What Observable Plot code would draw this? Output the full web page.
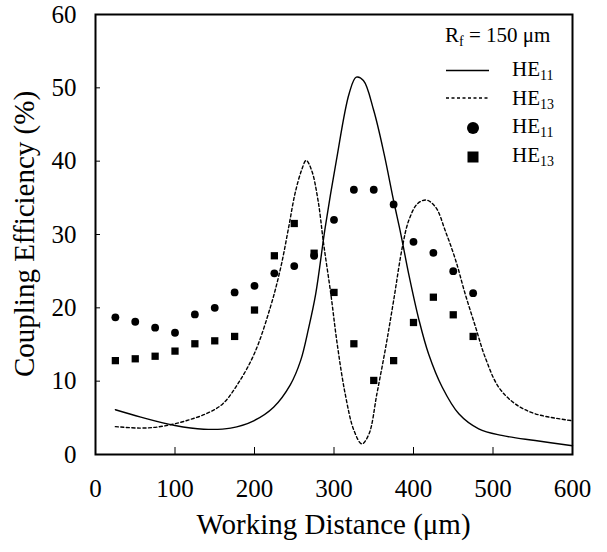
<!DOCTYPE html>
<html><head><meta charset="utf-8">
<script src="https://cdn.jsdelivr.net/npm/d3@7"></script>
<script src="https://cdn.jsdelivr.net/npm/@observablehq/plot@0.6"></script>
<style>body{margin:0;background:#fff} svg{display:block}</style>
</head><body><div id="chart"></div>
<script>
const xTicks = [0, 100, 200, 300, 400, 500, 600];
const yTicks = [0, 10, 20, 30, 40, 50, 60];

// measured points (working distance, um)
const pointX = [25, 50, 75, 100, 125, 150, 175, 200, 225, 250, 275, 300, 325, 350, 375, 400, 425, 450, 475];
const he11Measured = [18.7, 18.1, 17.3, 16.6, 19.1, 20.0, 22.1, 23.0, 24.7, 25.7, 27.1, 32.0, 36.1, 36.1, 34.1, 29.0, 27.5, 25.0, 22.0];
const he13Measured = [12.8, 13.05, 13.4, 14.1, 15.1, 15.5, 16.1, 19.7, 27.1, 31.5, 27.45, 22.1, 15.1, 10.1, 12.8, 18.0, 21.45, 19.05, 16.1];

// theoretical curves
const he11TheoryX = [25, 57, 100, 136, 170, 199, 224, 245, 258, 268, 277, 289, 303, 319, 328, 337, 350, 363, 375, 384, 394, 407, 419, 436, 457, 482, 511, 553, 600];
const he11TheoryY = [6.1, 5.1, 3.95, 3.45, 3.6, 4.6, 6.45, 9.5, 12.8, 17.2, 21.9, 31.0, 40.1, 49.2, 51.45, 51.0, 46.9, 41.0, 34.6, 30.1, 24.6, 18.3, 13.7, 9.2, 5.55, 3.5, 2.6, 1.9, 1.2];
const he13TheoryX = [25, 56, 78, 100, 120, 140, 160, 180, 200, 220, 233, 243, 251, 259, 265, 272, 280, 287, 296, 304, 314, 325, 335, 344, 354, 365, 375, 386, 394, 405, 416, 428, 440, 453, 465, 478, 490, 507, 528, 553, 600];
const he13TheoryY = [3.8, 3.6, 3.75, 4.2, 4.8, 5.6, 6.9, 9.8, 13.8, 20.1, 25.5, 31.0, 35.6, 38.7, 40.1, 38.7, 34.6, 28.7, 21.9, 15.1, 8.3, 3.3, 1.45, 2.8, 8.3, 14.6, 21.0, 28.3, 31.9, 34.2, 34.7, 33.7, 30.5, 26.5, 21.9, 17.4, 13.3, 9.2, 6.9, 5.55, 4.6];

const legendSubs = ["11", "13", "11", "13"];
const xTitle = "Working Distance (\u03bcm)";
const yTitle = "Coupling Efficiency (%)";

const font = '"Liberation Serif", "Times New Roman", serif';

const chart = Plot.plot({
  width: 607, height: 552,
  marginLeft: 95, marginRight: 35, marginTop: 14, marginBottom: 98,
  style: {fontFamily: font, fontSize: "25px", background: "#fff", color: "#000"},
  x: {domain: [0, 600]},
  y: {domain: [0, 60]},
  marks: [
    Plot.line(he11TheoryX, {x: d => d, y: (d, i) => he11TheoryY[i], stroke: "#000", strokeWidth: 1.4, curve: "catmull-rom"}),
    Plot.line(he13TheoryX, {x: d => d, y: (d, i) => he13TheoryY[i], stroke: "#000", strokeWidth: 1.4, strokeDasharray: "3,2.5", curve: "catmull-rom"}),
    Plot.dot(pointX, {x: d => d, y: (d, i) => he11Measured[i], r: 3.9, fill: "#000", symbol: "circle"}),
    Plot.dot(pointX, {x: d => d, y: (d, i) => he13Measured[i], r: 4.1, fill: "#000", symbol: "square"}),
    Plot.tickX(xTicks.slice(1, -1), {x: d => d, insetTop: 433, stroke: "#000"}),
    Plot.tickY(yTicks.slice(1, -1), {y: d => d, insetRight: 472, stroke: "#000"}),
    Plot.frame({stroke: "#000", strokeWidth: 2}),
    Plot.axisX({ticks: xTicks, tickSize: 0, tickPadding: 25, fontSize: 25, label: null}),
    Plot.axisY({ticks: yTicks, tickSize: 0, tickPadding: 19, fontSize: 25, label: null})
  ]
});
document.getElementById("chart").appendChild(chart);

const svg = d3.select(chart);
const g = svg.append("g").attr("font-family", font).attr("fill", "#000");

// axis titles
g.append("text").attr("x", 333.5).attr("y", 534).attr("text-anchor", "middle")
  .attr("font-size", 29).text(xTitle);
g.append("text").attr("transform", "translate(34,234) rotate(-90)").attr("text-anchor", "middle")
  .attr("font-size", 29).text(yTitle);

// legend
const rf = g.append("text").attr("x", 445).attr("y", 42).attr("font-size", 21).attr("text-anchor", "start");
rf.append("tspan").text("R");
rf.append("tspan").attr("font-size", 14).attr("dy", 4).text("f");
rf.append("tspan").attr("dy", -4).text(" = 150 \u03bcm");

const rowBase = [76, 104.5, 133, 162];
legendSubs.forEach((s, i) => {
  const t = g.append("text").attr("x", 512).attr("y", rowBase[i]).attr("font-size", 21).attr("text-anchor", "start");
  t.append("tspan").text("HE");
  t.append("tspan").attr("font-size", 14).attr("dy", 4).text(s);
});
g.append("line").attr("x1", 446).attr("x2", 489).attr("y1", 70.5).attr("y2", 70.5).attr("stroke", "#000").attr("stroke-width", 1.4);
g.append("line").attr("x1", 446).attr("x2", 489).attr("y1", 98).attr("y2", 98).attr("stroke", "#000").attr("stroke-width", 1.4).attr("stroke-dasharray", "3,2.5");
g.append("circle").attr("cx", 473).attr("cy", 128).attr("r", 6);
g.append("rect").attr("x", 467.5).attr("y", 151.5).attr("width", 11).attr("height", 11);
</script>
</body></html>
